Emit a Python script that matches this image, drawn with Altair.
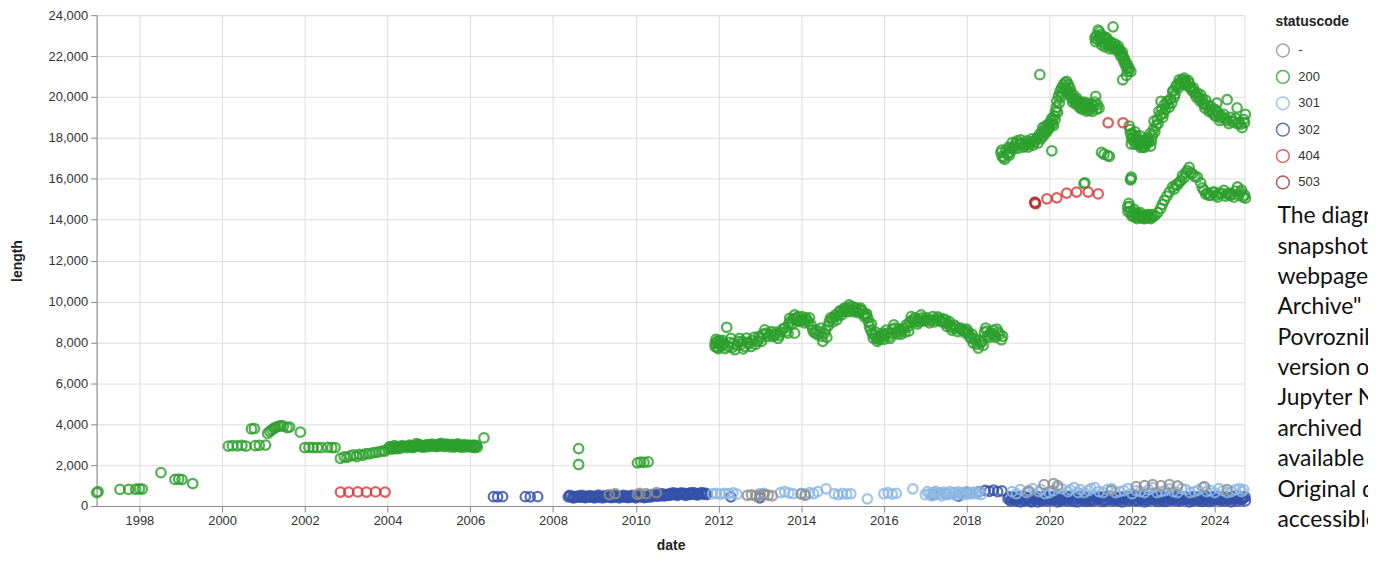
import altair as alt
import pandas as pd

# ---------------- data (decimal year, length) ----------------
codes = ["-", "200", "301", "302", "404", "503"]
code_colors = ["#8f8f8f", "#2ca02c", "#8db8e3", "#3451a8", "#d63c3c", "#9c3030"]

pts_302 = [
    (2006.56, 455), (2006.66, 450), (2006.78, 455), (2007.33, 455), (2007.45, 450), (2007.63, 455),
    (2008.37, 450), (2008.42, 480), (2008.47, 420), (2008.52, 470), (2008.57, 440), (2008.62, 500),
    (2008.67, 430), (2008.72, 460), (2008.77, 410), (2008.82, 480), (2008.87, 450), (2008.92, 430),
    (2008.97, 470), (2009.02, 440), (2009.07, 490), (2009.12, 420), (2009.17, 460), (2009.22, 480),
    (2009.27, 430), (2009.32, 470), (2009.37, 450), (2009.42, 500), (2009.47, 420), (2009.52, 460),
    (2009.57, 480), (2009.62, 440), (2009.67, 470), (2009.72, 430), (2009.77, 490), (2009.82, 450),
    (2009.87, 420), (2009.92, 480), (2009.97, 460), (2010.02, 440), (2010.07, 500), (2010.12, 450),
    (2010.17, 480), (2010.22, 430), (2010.27, 470), (2010.32, 520), (2010.37, 450), (2010.42, 490),
    (2010.47, 560), (2010.52, 470), (2010.57, 530), (2010.62, 500), (2010.67, 580), (2010.72, 520),
    (2010.77, 560), (2010.82, 600), (2010.87, 540), (2010.92, 580), (2010.97, 620), (2011.02, 560),
    (2011.07, 600), (2011.12, 580), (2011.17, 620), (2011.22, 560), (2011.27, 600), (2011.32, 640),
    (2011.37, 580), (2011.42, 610), (2011.47, 560), (2011.52, 600), (2011.57, 620), (2011.62, 580),
    (2011.67, 600), (2011.72, 560),
    (2008.40, 520), (2008.50, 400), (2008.60, 430), (2008.70, 520), (2008.80, 420), (2008.90, 510),
    (2009.00, 400), (2009.10, 530), (2009.20, 400), (2009.30, 520), (2009.40, 410), (2009.50, 530),
    (2009.60, 400), (2009.70, 520), (2009.80, 410), (2009.90, 520), (2010.00, 400), (2010.10, 530),
    (2010.20, 410), (2010.30, 430), (2010.40, 560), (2010.50, 520), (2010.60, 600), (2010.70, 500),
    (2010.80, 520), (2010.90, 640), (2011.00, 520), (2011.10, 640), (2011.20, 520), (2011.30, 560),
    (2011.40, 650), (2011.50, 540), (2011.60, 650), (2011.70, 620),
    (2012.30, 450), (2013.00, 400), (2017.20, 550), (2017.50, 600), (2017.80, 480), (2018.00, 650),
    (2018.30, 700), (2018.45, 760), (2018.55, 720), (2018.65, 780), (2018.75, 700), (2018.85, 740),
    (2019.00, 350), (2019.06, 250), (2019.12, 450), (2019.18, 300), (2019.24, 400), (2019.30, 200),
    (2019.36, 480), (2019.42, 300), (2019.48, 380), (2019.54, 250), (2019.60, 450), (2019.66, 320),
    (2019.72, 200), (2019.78, 420), (2019.84, 300), (2019.90, 500), (2019.96, 250), (2020.02, 380),
    (2020.08, 450), (2020.14, 300), (2020.20, 200), (2020.26, 420), (2020.32, 350), (2020.38, 500),
    (2020.44, 250), (2020.50, 400), (2020.56, 300), (2020.62, 450), (2020.68, 200), (2020.74, 380),
    (2020.80, 500), (2020.86, 300), (2020.92, 420), (2020.98, 250), (2021.04, 350), (2021.10, 480),
    (2021.16, 300), (2021.22, 400), (2021.28, 220), (2021.34, 450), (2021.40, 320), (2021.46, 380),
    (2021.52, 250), (2021.58, 460), (2021.64, 300), (2021.70, 400), (2021.76, 200), (2021.82, 350),
    (2021.88, 480), (2021.94, 300), (2022.00, 420), (2022.06, 250), (2022.12, 380), (2022.18, 450),
    (2022.24, 300), (2022.30, 200), (2022.36, 420), (2022.42, 350), (2022.48, 480), (2022.54, 280),
    (2022.60, 400), (2022.66, 300), (2022.72, 450), (2022.78, 220), (2022.84, 380), (2022.90, 500),
    (2022.96, 300), (2023.02, 420), (2023.08, 250), (2023.14, 350), (2023.20, 460), (2023.26, 300),
    (2023.32, 400), (2023.38, 200), (2023.44, 450), (2023.50, 320), (2023.56, 380), (2023.62, 250),
    (2023.68, 480), (2023.74, 300), (2023.80, 400), (2023.86, 220), (2023.92, 350), (2023.98, 460),
    (2024.04, 300), (2024.10, 420), (2024.16, 250), (2024.22, 380), (2024.28, 450), (2024.34, 300),
    (2024.40, 200), (2024.46, 420), (2024.52, 350), (2024.58, 480), (2024.64, 300), (2024.70, 400),
    (2024.74, 250),
    (2019.03, 450), (2019.09, 300), (2019.15, 380), (2019.21, 250), (2019.27, 450), (2019.33, 350),
    (2019.39, 250), (2019.45, 420), (2019.51, 320), (2019.57, 200), (2019.63, 380), (2019.69, 480),
    (2019.75, 300), (2019.81, 250), (2019.87, 400), (2019.93, 320), (2019.99, 450), (2020.05, 280),
    (2020.11, 380), (2020.17, 480), (2020.23, 300), (2020.29, 250), (2020.35, 430), (2020.41, 300),
    (2020.47, 380), (2020.53, 480), (2020.59, 220), (2020.65, 350), (2020.71, 450), (2020.77, 280),
    (2020.83, 380), (2020.89, 220), (2020.95, 450), (2021.01, 300), (2021.07, 250), (2021.13, 400),
    (2021.19, 350), (2021.25, 450), (2021.31, 300), (2021.37, 250), (2021.43, 480), (2021.49, 350),
    (2021.55, 300), (2021.61, 400), (2021.67, 250), (2021.73, 450), (2021.79, 300), (2021.85, 400),
    (2021.91, 250), (2021.97, 380), (2022.03, 480), (2022.09, 300), (2022.15, 250), (2022.21, 400),
    (2022.27, 450), (2022.33, 300), (2022.39, 250), (2022.45, 420), (2022.51, 350), (2022.57, 480),
    (2022.63, 220), (2022.69, 380), (2022.75, 300), (2022.81, 450), (2022.87, 250), (2022.93, 400),
    (2022.99, 300), (2023.05, 480), (2023.11, 350), (2023.17, 250), (2023.23, 400), (2023.29, 450),
    (2023.35, 300), (2023.41, 350), (2023.47, 250), (2023.53, 450), (2023.59, 300), (2023.65, 380),
    (2023.71, 220), (2023.77, 480), (2023.83, 300), (2023.89, 420), (2023.95, 250), (2024.01, 380),
    (2024.07, 480), (2024.13, 300), (2024.19, 350), (2024.25, 250), (2024.31, 420), (2024.37, 380),
    (2024.43, 300), (2024.49, 480), (2024.55, 250), (2024.61, 400), (2024.67, 350), (2024.73, 450),
]

pts_301 = [
    (2011.86, 600), (2011.95, 620), (2012.05, 580), (2012.15, 620), (2012.25, 600), (2012.35, 640),
    (2012.45, 580), (2013.00, 600), (2013.10, 620), (2013.50, 650), (2013.60, 700), (2013.70, 640),
    (2013.80, 600), (2014.00, 620), (2014.10, 580), (2014.20, 650), (2014.30, 600), (2014.40, 700),
    (2014.60, 840), (2014.80, 600), (2014.90, 550), (2015.00, 620), (2015.10, 580), (2015.20, 600),
    (2015.60, 350), (2016.00, 600), (2016.10, 650), (2016.20, 580), (2016.30, 620), (2016.70, 840),
    (2017.00, 550), (2017.05, 700), (2017.10, 600), (2017.15, 500), (2017.20, 650), (2017.25, 720),
    (2017.30, 580), (2017.35, 640), (2017.40, 500), (2017.45, 680), (2017.50, 620), (2017.55, 560),
    (2017.60, 700), (2017.65, 600), (2017.70, 650), (2017.75, 520), (2017.80, 690), (2017.85, 600),
    (2017.90, 640), (2017.95, 560), (2018.00, 700), (2018.05, 620), (2018.10, 580), (2018.15, 680),
    (2018.20, 640), (2018.25, 600), (2018.30, 700), (2018.35, 560),
    (2019.10, 700), (2019.30, 800), (2019.45, 650), (2019.60, 850), (2019.75, 700), (2019.90, 600),
    (2020.10, 750), (2020.30, 850), (2020.45, 700), (2020.60, 900), (2020.75, 800), (2020.85, 650),
    (2021.00, 850), (2021.20, 700), (2021.40, 800), (2021.60, 650), (2021.80, 750), (2022.00, 600),
    (2022.20, 700), (2022.40, 800), (2022.60, 650), (2022.80, 750), (2023.00, 700), (2023.20, 850),
    (2023.40, 650), (2023.60, 780), (2023.80, 700), (2024.00, 650), (2024.20, 750), (2024.40, 700),
    (2024.60, 850), (2024.70, 800),
    (2019.20, 600), (2019.50, 750), (2019.80, 800), (2020.00, 650), (2020.20, 900), (2020.50, 800),
    (2020.70, 650), (2020.95, 750), (2021.10, 900), (2021.30, 650), (2021.50, 850), (2021.70, 700),
    (2021.90, 850), (2022.10, 750), (2022.30, 650), (2022.50, 900), (2022.70, 700), (2022.90, 850),
    (2023.10, 650), (2023.30, 800), (2023.50, 700), (2023.70, 900), (2023.90, 750), (2024.10, 850),
    (2024.30, 650), (2024.50, 800), (2024.65, 700),
]

pts_dash = [
    (2009.36, 560), (2009.50, 600), (2010.04, 570), (2010.10, 620), (2010.25, 600), (2010.50, 650),
    (2012.70, 520), (2012.80, 550), (2012.90, 500), (2013.00, 520), (2013.10, 560), (2013.20, 530),
    (2013.30, 500), (2014.00, 580), (2014.10, 520), (2019.50, 700), (2019.87, 1050), (2020.10, 1100),
    (2020.20, 1000), (2021.50, 750), (2022.10, 950), (2022.30, 1000), (2022.50, 1050), (2022.70, 1000),
    (2022.90, 1050), (2023.10, 980), (2023.75, 950), (2024.30, 800),
]

pts_200 = [
    (1996.97, 650), (1997.00, 700),
    (1997.53, 810), (1997.74, 810), (1997.91, 820), (1998.00, 840), (1998.07, 830),
    (1998.52, 1630),
    (1998.86, 1300), (1998.95, 1320), (1999.03, 1290), (1999.29, 1100),
    (2000.15, 2930), (2000.25, 2950), (2000.37, 2940), (2000.48, 2960), (2000.58, 2930), (2000.80, 2950),
    (2000.90, 2970), (2001.05, 2980), (2000.71, 3770), (2000.78, 3790),
    (2001.10, 3550), (2001.15, 3650), (2001.20, 3720), (2001.25, 3800), (2001.30, 3850), (2001.36, 3900),
    (2001.42, 3930), (2001.48, 3910), (2001.57, 3830), (2001.63, 3860),
    (2001.89, 3610),
    (2002.00, 2850), (2002.10, 2870), (2002.20, 2850), (2002.30, 2860), (2002.40, 2850), (2002.55, 2870),
    (2002.65, 2850), (2002.73, 2860),
    (2002.86, 2330), (2002.95, 2400), (2003.02, 2380), (2003.10, 2450), (2003.18, 2500), (2003.25, 2420),
    (2003.32, 2520), (2003.40, 2480), (2003.48, 2560), (2003.56, 2550), (2003.64, 2600), (2003.72, 2620),
    (2003.80, 2650), (2003.88, 2700), (2003.94, 2680),
    (2004.02, 2800), (2004.08, 2850), (2004.14, 2830), (2004.20, 2880), (2004.26, 2870), (2004.32, 2900),
    (2004.38, 2890), (2004.44, 2920), (2004.50, 2900), (2004.56, 2930), (2004.62, 2910), (2004.68, 2950),
    (2004.74, 2930), (2004.80, 2960), (2004.86, 2940), (2004.92, 2970), (2004.98, 2950), (2005.04, 2980),
    (2005.10, 2960), (2005.16, 2990), (2005.22, 2970), (2005.28, 2950), (2005.34, 2980), (2005.40, 2960),
    (2005.46, 2990), (2005.52, 2970), (2005.58, 2950), (2005.64, 2940), (2005.70, 2970), (2005.76, 2950),
    (2005.82, 2930), (2005.88, 2960), (2005.94, 2940), (2006.00, 2920), (2006.06, 2950), (2006.12, 2900),
    (2006.17, 2880), (2004.30, 2820), (2004.60, 2850), (2004.90, 2880), (2005.20, 2900), (2005.50, 2890),
    (2005.80, 2870), (2006.10, 2850), (2004.70, 3050), (2005.30, 3060), (2005.70, 3040),
    (2004.05, 2900), (2004.11, 2780), (2004.17, 2950), (2004.23, 2800), (2004.35, 2950), (2004.47, 2850),
    (2004.53, 2980), (2004.65, 2880), (2004.77, 3000), (2004.83, 2880), (2004.95, 3000), (2005.01, 2900),
    (2005.07, 3020), (2005.13, 2920), (2005.25, 3020), (2005.37, 2900), (2005.43, 3020), (2005.55, 3010),
    (2005.61, 2880), (2005.67, 3000), (2005.73, 2900), (2005.85, 3000), (2005.91, 2890), (2005.97, 2980),
    (2006.03, 2880), (2006.09, 2980), (2006.15, 2950),
    (2006.33, 3330),
    (2008.62, 2810), (2008.62, 2030),
    (2010.04, 2110), (2010.12, 2150), (2010.20, 2130), (2010.30, 2160),
    # 2012-2018 band
    (2011.92, 7950), (2011.92, 7800), (2011.97, 8050), (2011.97, 7750), (2012.02, 7900), (2012.02, 8100),
    (2012.08, 7820), (2012.12, 7950), (2012.20, 8740), (2012.24, 7800), (2012.30, 8200), (2012.36, 7950),
    (2012.40, 7640), (2012.48, 8050), (2012.55, 7900), (2012.60, 7680), (2012.68, 8210), (2012.75, 7950),
    (2012.82, 8100), (2012.90, 7900), (2012.98, 8300), (2013.04, 8050), (2013.12, 8615), (2013.20, 8290),
    (2013.28, 8530), (2013.36, 8370), (2013.44, 8200), (2013.50, 8500), (2013.60, 8700), (2013.68, 8450),
    (2013.72, 9180), (2013.78, 8900), (2013.84, 9340), (2013.90, 9050), (2013.96, 9020), (2014.02, 9260),
    (2014.08, 8950), (2014.14, 9100), (2014.20, 9200), (2013.84, 8450), (2014.28, 8615), (2014.34, 8450),
    (2014.40, 8370), (2014.48, 8700), (2014.52, 8050), (2014.56, 8450), (2014.62, 8250), (2014.68, 9020),
    (2014.74, 9150), (2014.80, 9260), (2014.86, 9100), (2014.92, 9500), (2014.98, 9350), (2015.04, 9670),
    (2015.10, 9500), (2015.16, 9830), (2015.20, 9600), (2015.26, 9590), (2015.32, 9700), (2015.38, 9450),
    (2015.44, 9670), (2015.50, 9400), (2015.56, 9340), (2015.61, 9200), (2015.65, 8780), (2015.70, 8900),
    (2015.74, 8210), (2015.80, 8500), (2015.84, 8050), (2015.90, 8300), (2015.96, 8450), (2016.00, 8150),
    (2016.06, 8600), (2016.12, 8290), (2016.18, 8450), (2016.24, 8860), (2016.30, 8500), (2016.36, 8650),
    (2016.42, 8400), (2016.48, 8700), (2016.54, 8860), (2016.60, 8550), (2016.66, 9260), (2016.72, 9000),
    (2016.78, 9020), (2016.84, 9150), (2016.90, 9340), (2016.96, 9050), (2017.04, 9200), (2017.10, 8950),
    (2017.18, 9260), (2017.26, 9100), (2017.34, 9180), (2017.40, 9020), (2017.46, 8950), (2017.52, 8780),
    (2017.58, 9020), (2017.64, 8600), (2017.70, 8850), (2017.78, 8530), (2017.86, 8700), (2017.94, 8580),
    (2018.00, 8650), (2018.04, 8450), (2018.10, 8200), (2018.16, 7970), (2018.22, 8100), (2018.28, 7720),
    (2018.34, 7970), (2018.40, 7850), (2018.46, 8700), (2018.52, 8350), (2018.58, 8450), (2018.64, 8600),
    (2018.70, 8250), (2018.76, 8500), (2018.84, 8130), (2018.87, 8300),
    (2011.94, 8150), (2012.00, 7700), (2012.05, 8000), (2012.10, 8100), (2012.16, 7700), (2012.27, 8000),
    (2012.33, 7750), (2012.44, 7850), (2012.51, 8200), (2012.58, 8050), (2012.64, 7800), (2012.71, 8000),
    (2012.79, 7800), (2012.86, 8250), (2012.94, 8050), (2013.01, 8200), (2013.08, 8400), (2013.16, 8450),
    (2013.24, 8400), (2013.32, 8300), (2013.40, 8500), (2013.47, 8350), (2013.55, 8650), (2013.64, 8550),
    (2013.70, 8900), (2013.75, 9050), (2013.81, 9150), (2013.87, 9200), (2013.93, 9250), (2013.99, 9100),
    (2014.05, 9100), (2014.11, 9200), (2014.17, 9000), (2014.24, 8850), (2014.31, 8500), (2014.37, 8600),
    (2014.44, 8500), (2014.50, 8300), (2014.59, 8600), (2014.65, 8800), (2014.71, 9200), (2014.77, 9000),
    (2014.83, 9350), (2014.89, 9300), (2014.95, 9550), (2015.01, 9500), (2015.07, 9600), (2015.13, 9700),
    (2015.18, 9500), (2015.23, 9750), (2015.29, 9500), (2015.35, 9550), (2015.41, 9600), (2015.47, 9550),
    (2015.53, 9250), (2015.58, 9400), (2015.63, 9000), (2015.68, 8600), (2015.72, 8450), (2015.77, 8350),
    (2015.82, 8200), (2015.87, 8150), (2015.93, 8200), (2015.98, 8350), (2016.03, 8350), (2016.09, 8450),
    (2016.15, 8200), (2016.21, 8650), (2016.27, 8700), (2016.33, 8400), (2016.39, 8550), (2016.45, 8600),
    (2016.51, 8500), (2016.57, 8750), (2016.63, 9000), (2016.69, 9100), (2016.75, 9200), (2016.81, 8900),
    (2016.87, 9000), (2016.93, 9200), (2017.00, 9100), (2017.07, 9050), (2017.14, 9100), (2017.22, 9000),
    (2017.30, 9250), (2017.37, 9050), (2017.43, 9150), (2017.49, 9100), (2017.55, 8900), (2017.61, 8800),
    (2017.67, 8700), (2017.74, 8750), (2017.82, 8650), (2017.90, 8600), (2017.97, 8450), (2018.02, 8550),
    (2018.07, 8300), (2018.13, 8400), (2018.19, 8200), (2018.25, 7900), (2018.31, 8100), (2018.37, 8050),
    (2018.43, 8500), (2018.49, 8550), (2018.55, 8250), (2018.61, 8400), (2018.67, 8350), (2018.73, 8650),
    (2018.80, 8400),
    # 2019-2021 upper
    (2018.83, 17285), (2018.86, 17100), (2018.89, 17040), (2018.95, 17400), (2019.01, 17530), (2018.98, 17200),
    (2019.05, 17300), (2019.10, 17770), (2019.16, 17600), (2019.22, 17850), (2019.28, 17690), (2019.34, 17750),
    (2019.40, 17600), (2019.46, 17850), (2019.52, 17700), (2019.58, 17950), (2019.64, 17800), (2019.70, 18000),
    (2019.76, 18175), (2019.80, 17950), (2019.84, 18500), (2019.88, 18250), (2019.92, 18400), (2019.96, 18660),
    (2020.00, 18500), (2020.04, 18820), (2020.08, 18700), (2020.12, 19070), (2020.06, 17370),
    (2019.77, 21090),
    (2020.15, 19300), (2020.18, 19800), (2020.22, 20050), (2020.26, 20280), (2020.30, 20450), (2020.34, 20600),
    (2020.38, 20700), (2020.42, 20760), (2020.46, 20600), (2020.50, 20440), (2020.54, 19950), (2020.58, 20100),
    (2020.62, 19790), (2020.66, 19950), (2020.70, 19600), (2020.74, 19470), (2020.78, 19700), (2020.82, 19630),
    (2020.86, 19450), (2020.90, 19310), (2020.94, 19500), (2021.00, 19470), (2021.04, 19300), (2021.12, 20030),
    (2021.16, 19630), (2021.20, 19450),
    (2018.85, 17400), (2018.92, 16950), (2019.03, 17150), (2019.08, 17500), (2019.13, 17450), (2019.19, 17750),
    (2019.25, 17500), (2019.31, 17900), (2019.37, 17550), (2019.43, 17700), (2019.49, 17550), (2019.55, 17800),
    (2019.61, 17650), (2019.67, 17900), (2019.73, 17750), (2019.79, 18050), (2019.82, 18300), (2019.86, 18100),
    (2019.90, 18550), (2019.94, 18300), (2019.98, 18450), (2020.02, 18700), (2020.06, 18950), (2020.10, 18600),
    (2020.14, 18900), (2020.17, 19500), (2020.20, 19250), (2020.24, 19700), (2020.28, 20000), (2020.32, 20200),
    (2020.36, 20350), (2020.40, 20450), (2020.44, 20300), (2020.48, 20150), (2020.52, 20250), (2020.56, 19750),
    (2020.60, 19900), (2020.64, 19650), (2020.68, 19800), (2020.72, 19750), (2020.76, 19500), (2020.80, 19400),
    (2020.84, 19750), (2020.88, 19600), (2020.92, 19700), (2020.96, 19350), (2021.02, 19650), (2021.07, 19550),
    (2021.10, 19750), (2021.14, 19400),
    (2021.26, 17290), (2021.32, 17200), (2021.41, 17130), (2021.45, 17100),
    (2021.10, 22900), (2021.14, 23000), (2021.18, 23270), (2021.21, 23180), (2021.24, 22870), (2021.28, 22700),
    (2021.32, 22950), (2021.36, 22600), (2021.40, 22800), (2021.44, 22500), (2021.48, 22700), (2021.52, 22450),
    (2021.54, 23430), (2021.58, 22600), (2021.62, 22380), (2021.66, 22500), (2021.70, 22250), (2021.74, 22100),
    (2021.78, 21980), (2021.81, 21890), (2021.85, 21700), (2021.89, 21560), (2021.93, 21400), (2021.97, 21240),
    (2021.77, 20840), (2021.86, 21050),
    (2021.12, 22700), (2021.16, 22800), (2021.20, 22950), (2021.23, 23050), (2021.26, 22550), (2021.30, 22850),
    (2021.34, 22450), (2021.38, 22900), (2021.42, 22650), (2021.46, 22350), (2021.50, 22600), (2021.56, 22350),
    (2021.60, 22450), (2021.64, 22250), (2021.68, 22350), (2021.72, 22000), (2021.76, 22200), (2021.80, 21750),
    (2021.83, 21600), (2021.87, 21400), (2021.91, 21250),
    (2021.97, 16000), (2021.98, 16080), (2021.96, 15950),
    (2020.84, 15760), (2020.86, 15800),
    # 2022-2024 lower band
    (2021.89, 14630), (2021.92, 14800), (2021.95, 14400), (2022.01, 14310), (2022.05, 14500), (2022.10, 14150),
    (2022.14, 14300), (2022.18, 14230), (2022.22, 14100), (2022.27, 14060), (2022.32, 14200), (2022.37, 14230),
    (2022.42, 14100), (2022.47, 14250), (2022.69, 14550), (2022.78, 14950), (2022.90, 15350), (2022.98, 15600),
    (2023.06, 15700), (2023.14, 15840), (2023.22, 16160), (2023.30, 16300), (2023.38, 16560), (2023.46, 16240),
    (2023.58, 16080), (2023.74, 15430), (2023.82, 15300), (2023.86, 15190), (2023.95, 15350), (2024.04, 15200),
    (2024.10, 15270), (2024.22, 15430), (2024.30, 15250), (2024.38, 15190), (2024.46, 15100), (2024.55, 15600),
    (2024.62, 15350), (2024.68, 15110), (2024.72, 15200),
    (2021.90, 14400), (2021.94, 14650), (2021.99, 14200), (2022.03, 14150), (2022.08, 14350), (2022.12, 14050),
    (2022.16, 14150), (2022.20, 14350), (2022.25, 14200), (2022.30, 14050), (2022.35, 14100), (2022.40, 14250),
    (2022.45, 14050), (2022.50, 14150), (2022.55, 14200), (2022.62, 14350), (2022.73, 14750), (2022.84, 15150),
    (2023.02, 15500), (2023.10, 15700), (2023.18, 15900), (2023.26, 16050), (2023.34, 16400), (2023.42, 16300),
    (2023.52, 16100), (2023.66, 15800), (2023.70, 15550), (2023.78, 15250), (2023.90, 15200), (2024.00, 15350),
    (2024.07, 15100), (2024.16, 15300), (2024.26, 15150), (2024.34, 15300), (2024.42, 15250), (2024.50, 15400),
    (2024.58, 15200), (2024.65, 15450), (2024.74, 15050),
    # 2022-2024 upper band
    (2021.93, 18580), (2021.96, 18200), (2022.01, 18180), (2022.05, 17850), (2022.09, 17950), (2022.13, 17690),
    (2022.17, 17800), (2022.21, 17530), (2022.25, 17700), (2022.29, 17770), (2022.33, 17900), (2022.37, 18010),
    (2022.41, 17800), (2022.45, 17600), (2022.49, 18100), (2021.98, 17700), (2022.07, 18300), (2022.19, 18100),
    (2022.31, 17550), (2022.43, 18200), (2022.53, 18820), (2022.58, 18600), (2022.65, 19300), (2022.70, 19790),
    (2022.74, 19000), (2022.78, 19630), (2022.84, 19790), (2022.90, 19500), (2022.98, 20270), (2023.06, 20520),
    (2023.02, 20000), (2023.14, 20840), (2023.18, 20600), (2023.26, 20920), (2023.30, 20700), (2023.38, 20680),
    (2023.42, 20450), (2023.50, 20270), (2023.55, 20000), (2023.62, 19950), (2023.66, 20100), (2023.74, 19630),
    (2023.78, 19850), (2023.86, 19300), (2023.90, 19550), (2023.98, 19150), (2024.06, 19300), (2024.14, 18980),
    (2024.22, 19150), (2024.30, 18850), (2024.38, 19000), (2024.46, 18820), (2024.54, 18700), (2024.62, 18660),
    (2024.70, 18900), (2024.74, 19150), (2024.30, 19870), (2024.54, 19470), (2024.05, 19700),
    (2021.95, 18400), (2021.99, 17950), (2022.03, 18050), (2022.07, 17700), (2022.11, 18100), (2022.15, 17900),
    (2022.19, 17650), (2022.23, 17850), (2022.27, 17550), (2022.35, 17700), (2022.39, 17900), (2022.47, 17850),
    (2022.51, 18400), (2022.55, 18300), (2022.61, 18900), (2022.63, 18700), (2022.68, 19100), (2022.72, 19400),
    (2022.76, 19200), (2022.81, 19400), (2022.87, 19650), (2022.93, 19900), (2022.96, 19700), (2023.00, 20300),
    (2023.04, 20150), (2023.09, 20600), (2023.12, 20450), (2023.16, 20700), (2023.21, 20850), (2023.24, 20650),
    (2023.28, 20800), (2023.33, 20550), (2023.36, 20800), (2023.40, 20500), (2023.45, 20300), (2023.48, 20450),
    (2023.53, 20150), (2023.58, 20200), (2023.64, 19800), (2023.70, 19900), (2023.72, 19700), (2023.76, 19450),
    (2023.82, 19600), (2023.88, 19400), (2023.94, 19250), (2024.00, 19400), (2024.02, 19050), (2024.09, 19150),
    (2024.12, 18850), (2024.18, 19050), (2024.26, 18950), (2024.34, 18700), (2024.42, 18800), (2024.50, 18950),
    (2024.58, 18750), (2024.66, 18500), (2024.72, 18750),
]

pts_404 = [
    (2002.86, 680), (2003.06, 680), (2003.28, 690), (2003.49, 680), (2003.71, 690), (2003.94, 680),
    (2019.65, 14860), (2019.67, 14780), (2019.94, 15020), (2020.18, 15070), (2020.42, 15300),
    (2020.66, 15350), (2020.94, 15350), (2021.18, 15260), (2021.42, 18740), (2021.78, 18740),
]

pts_503 = [(2019.65, 14820)]

caption_lines = [
    "The diagram shows the",
    "snapshots of the",
    "webpage in the \"Internet",
    "Archive\" (by Iryna",
    "Povroznik). A static",
    "version of the",
    "Jupyter Notebook is",
    "archived and",
    "available in Zenodo.",
    "Original data are",
    "accessible at",
]

x_tick_years = list(range(1998, 2025, 2))
y_tick_values = list(range(0, 24001, 2000))


def year_to_ts(y):
    yi = int(y)
    start = pd.Timestamp(year=yi, month=1, day=1)
    return start + pd.Timedelta(days=(y - yi) * 365.25)


rows = []
for code, pts in [("302", pts_302), ("301", pts_301), ("-", pts_dash),
                  ("200", pts_200), ("404", pts_404), ("503", pts_503)]:
    for yr, ln in pts:
        rows.append({"date": year_to_ts(yr), "length": ln, "statuscode": code})
df = pd.DataFrame(rows)

FONT = "Liberation Sans"

points = alt.Chart(df).mark_point(size=90, strokeWidth=2.3, filled=False, opacity=0.8).encode(
    x=alt.X(
        "date:T", title="date",
        scale=alt.Scale(domain=[alt.DateTime(year=1996, month=12, date=19),
                                alt.DateTime(year=2024, month=9, date=20)]),
        axis=alt.Axis(values=[alt.DateTime(year=y, month=1, date=1) for y in x_tick_years],
                      format="%Y", titlePadding=11),
    ),
    y=alt.Y(
        "length:Q", title="length",
        scale=alt.Scale(domain=[0, 24000]),
        axis=alt.Axis(values=y_tick_values, format=",.0f", titlePadding=24),
    ),
    color=alt.Color(
        "statuscode:N",
        scale=alt.Scale(domain=codes, range=code_colors),
        legend=alt.Legend(title="statuscode", orient="right", offset=31, padding=0,
                          symbolSize=165, symbolStrokeWidth=1.5, rowPadding=7.5,
                          titlePadding=14, labelOffset=8),
    ),
)

caption = alt.Chart(pd.DataFrame({"k": [0]})).mark_text(
    text=caption_lines, align="left", baseline="alphabetic", font="Lato",
    fontSize=23, lineHeight=30.5, color="#111111",
).encode(x=alt.value(1186), y=alt.value(209))

chart = alt.layer(points, caption).properties(
    width=1153, height=493,
    autosize=alt.AutoSizeParams(type="none"),
    padding={"left": 89, "top": 6, "right": 124, "bottom": 46},
).configure_axis(
    labelFont=FONT, labelFontSize=13, labelColor="#333333",
    titleFont=FONT, titleFontSize=14, titleFontWeight="bold", titleColor="#222222",
    tickSize=6, labelPadding=3, gridColor="#dddddd", domainColor="#888888", tickColor="#888888",
).configure_legend(
    labelFont=FONT, labelFontSize=13, labelColor="#333333",
    titleFont=FONT, titleFontSize=14, titleFontWeight="bold", titleColor="#222222",
).configure_view(stroke="#dddddd")

chart.save("out.html", embed_options={"renderer": "svg", "actions": False})
